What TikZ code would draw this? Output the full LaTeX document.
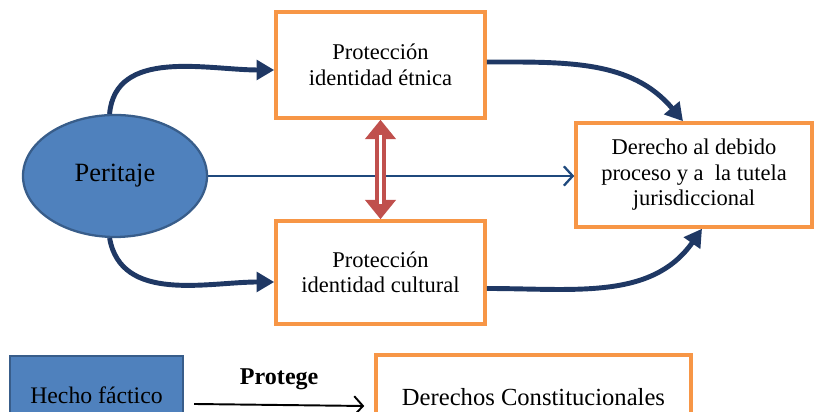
\documentclass[tikz,border=0pt]{standalone}
\usepackage{fontspec}
\setmainfont{Liberation Serif}
\usetikzlibrary{arrows.meta,calc,shapes.geometric}
\definecolor{peritblue}{RGB}{79,129,189}
\definecolor{peritedge}{RGB}{56,93,138}
\definecolor{navy}{RGB}{31,56,100}
\definecolor{lineblue}{RGB}{31,73,125}
\definecolor{boxorange}{RGB}{247,150,70}
\definecolor{arrowred}{RGB}{192,80,77}

\begin{document}
\begin{tikzpicture}[>=Stealth,
  obox/.style={draw=boxorange, line width=2pt, fill=white, align=center, font=\fontsize{12.8}{14.5}\selectfont},
  navyarrow/.style={navy, line width=2.8pt, -{Triangle[length=10pt,width=11pt]}},
  thinarrow/.style={line width=1.3pt, -{Straight Barb[length=5pt,width=11pt]}},
]
  \useasboundingbox (0,0) rectangle (16.36,8.24);
  \clip (0,0) rectangle (16.36,8.24);
  % main nodes
  \node[ellipse, draw=peritedge, line width=1.3pt, fill=peritblue, minimum width=3.68cm, minimum height=2.44cm, font=\fontsize{15}{17}\selectfont] (perit) at (2.30,4.72) {Peritaje};
  \node[obox, minimum width=4.18cm, minimum height=2.12cm] (etnica) at (7.61,6.94) {Protección\\identidad étnica};
  \node[obox, minimum width=4.18cm, minimum height=2.06cm] (cultural) at (7.61,2.79) {Protección\\identidad cultural};
  \node[obox, minimum width=4.72cm, minimum height=2.08cm] (debido) at (13.88,4.74) {Derecho al debido\\proceso y a\ \ la tutela\\jurisdiccional};
  % straight arrow
  \draw[thinarrow, lineblue] (perit.east) -- (perit.east -| debido.west);
  % curved arrows
  \draw[navyarrow] (perit.95) to[out=85, in=180] ([yshift=-0.1cm]etnica.west);
  \draw[navyarrow] ([yshift=0.06cm]etnica.east) to[out=0, in=130] ([xshift=-0.22cm]debido.north);
  \draw[navyarrow] (perit.265) to[out=-80, in=180] ([yshift=-0.19cm]cultural.west);
  \draw[navyarrow] ([yshift=-0.32cm]cultural.east) to[out=0, in=-125] ([xshift=0.16cm]debido.south);
  % double arrow between the two boxes
  \draw[arrowred, line width=6.5pt, {Triangle[length=11pt,width=17pt]}-{Triangle[length=11pt,width=17pt]}] (etnica.south) -- (cultural.north);
  \draw[white, line width=2.2pt] ($(etnica.south)+(0,-0.3)$) -- ($(cultural.north)+(0,0.3)$);
  % legend
  \node[draw=peritedge, line width=1.3pt, fill=peritblue, minimum width=3.46cm, minimum height=1.56cm, font=\fontsize{13.5}{15}\selectfont] (hecho) at (1.93,0.34) {Hecho fáctico};
  \node[draw=boxorange, line width=2pt, minimum width=6.3cm, minimum height=1.68cm, font=\fontsize{14}{16}\selectfont] (derechos) at (10.67,0.30) {Derechos Constitucionales};
  \draw[thinarrow, line width=1.1pt] ($(hecho.east)+(0.2,-0.18)$) -- ($(derechos.west)+(-0.2,-0.18)$) node[midway, above=5pt, font=\fontsize{13.7}{15}\selectfont\bfseries] {Protege};
\end{tikzpicture}
\end{document}
